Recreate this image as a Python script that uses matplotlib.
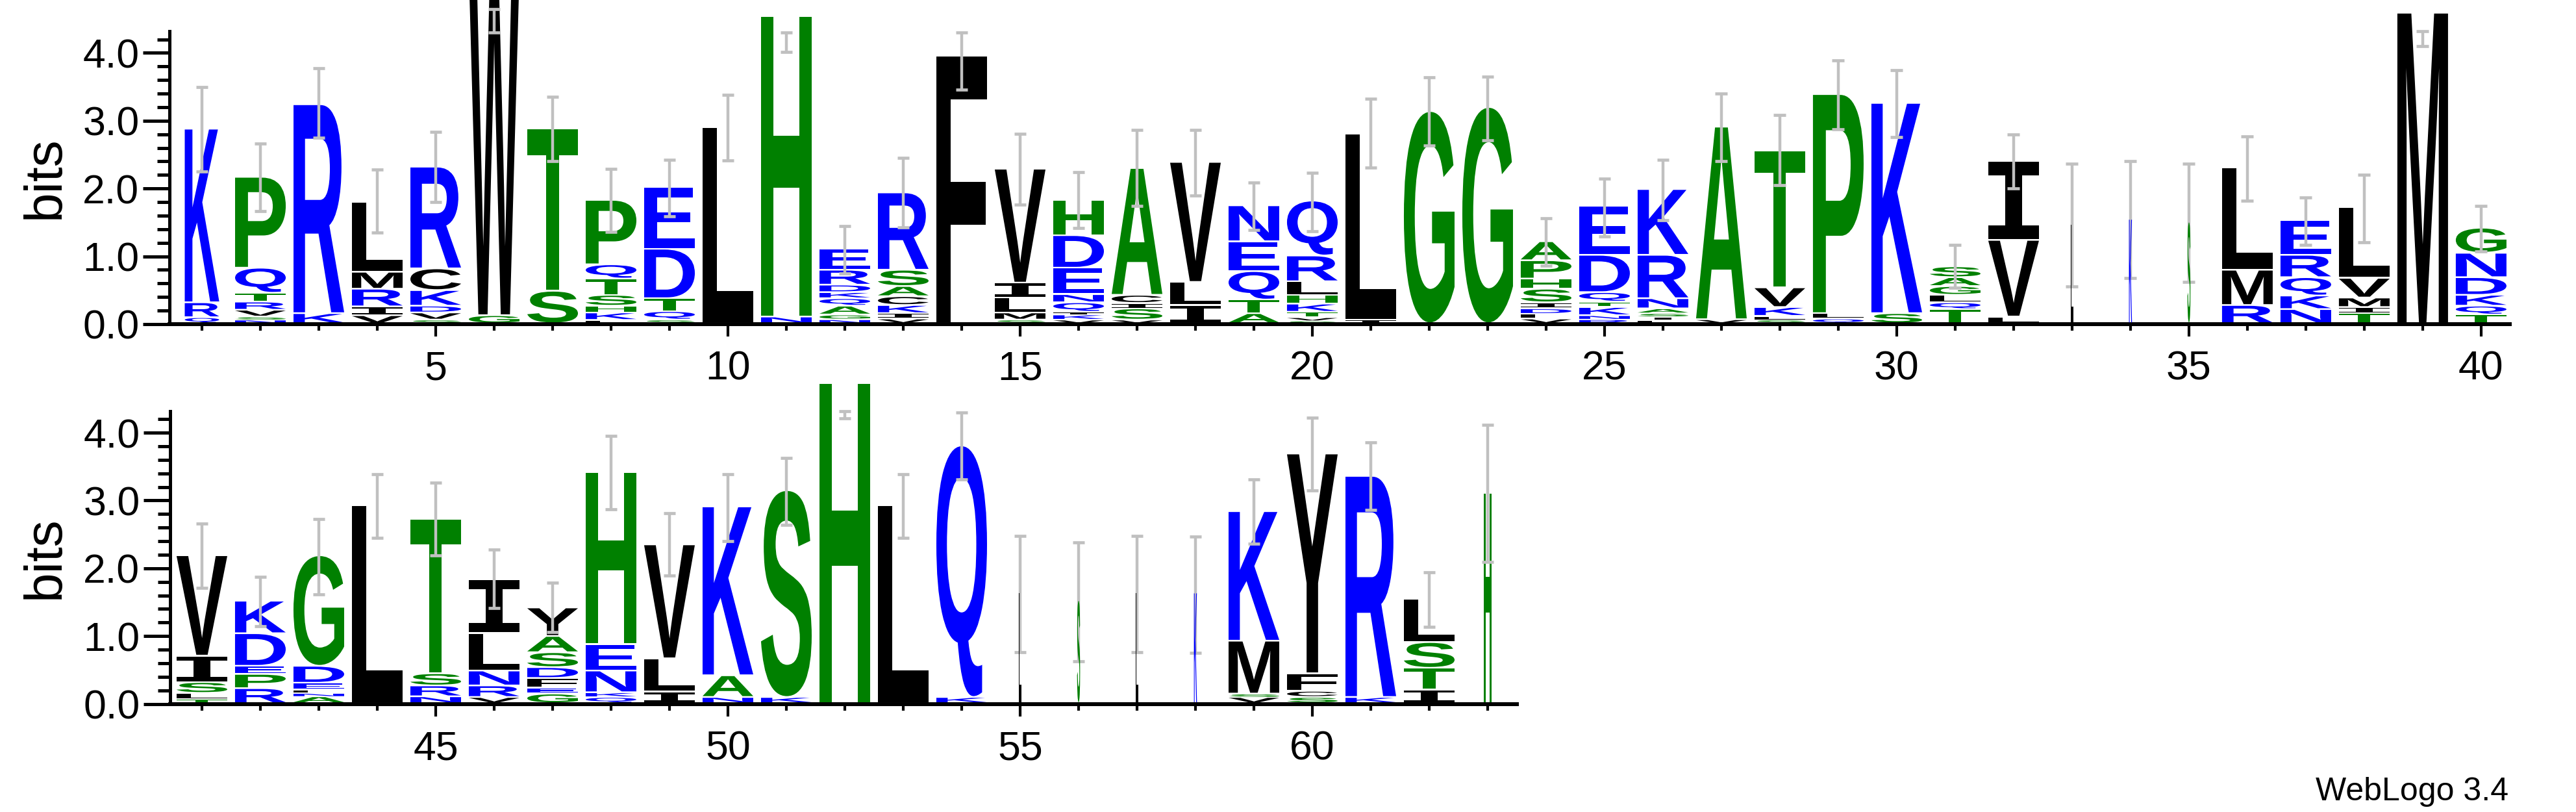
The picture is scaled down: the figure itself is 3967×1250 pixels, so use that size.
import numpy as np
import matplotlib
matplotlib.use("Agg")
import matplotlib.pyplot as plt
from matplotlib.textpath import TextPath
from matplotlib.patches import PathPatch
from matplotlib.font_manager import FontProperties
from matplotlib.transforms import Affine2D
from matplotlib.ticker import FixedLocator, FormatStrFormatter

# ---------------- data ----------------
top_positions = list(range(1, 41))
top_letters = ["QRK", "NSVRTQP", "KR", "VIRML", "SVDKCR", "GW", "ST", "LKHSTQP",
               "SQTDE", "L", "NH", "NGAQKDRE", "VIKCASR", "F", "SMLIV", "VKIQNEDH",
               "VSICA", "ILV", "ATQEN", "SVTKHLRQ", "IL", "G", "G", "VLDISHPA",
               "RNKTQDE", "LISANRK", "VA", "SLKVT", "QLP", "SK", "TQLGAS", "LVI",
               "L", "K", "S", "RML", "NKQRE", "TIMVL", "M", "TQKDNG"]
top_heights = [
    [0.09, 0.22, 2.56], [0.055, 0.045, 0.10, 0.12, 0.13, 0.37, 1.34], [0.15, 3.08],
    [0.12, 0.13, 0.26, 0.25, 1.03], [0.055, 0.105, 0.10, 0.23, 0.32, 1.50], [0.12, 5.08],
    [0.48, 2.39], [0.05, 0.11, 0.10, 0.16, 0.24, 0.21, 0.95], [0.055, 0.125, 0.19, 0.73, 0.91],
    [2.89], [0.10, 4.43], [0.06, 0.07, 0.13, 0.11, 0.09, 0.11, 0.22, 0.31],
    [0.07, 0.08, 0.12, 0.13, 0.15, 0.24, 1.14], [3.95], [0.055, 0.105, 0.22, 0.22, 1.68],
    [0.055, 0.075, 0.04, 0.14, 0.12, 0.39, 0.48, 0.52], [0.055, 0.165, 0.08, 0.12, 1.87],
    [0.27, 0.34, 1.77], [0.15, 0.20, 0.42, 0.44, 0.53],
    [0.04, 0.05, 0.08, 0.12, 0.13, 0.20, 0.38, 0.81], [0.055, 2.745], [3.13], [3.19],
    [0.07, 0.07, 0.08, 0.09, 0.20, 0.15, 0.27, 0.28], [0.06, 0.06, 0.12, 0.08, 0.14, 0.55, 0.72],
    [0.05, 0.05, 0.05, 0.07, 0.15, 0.64, 0.97], [0.06, 2.84], [0.055, 0.055, 0.13, 0.29, 2.02],
    [0.07, 0.08, 3.23], [0.15, 3.10], [0.21, 0.10, 0.11, 0.13, 0.13, 0.16], [0.10, 1.13, 1.16],
    [1.47], [1.54], [1.50], [0.27, 0.52, 1.51], [0.21, 0.20, 0.27, 0.33, 0.51],
    [0.15, 0.09, 0.14, 0.29, 1.04], [4.58], [0.13, 0.13, 0.16, 0.26, 0.36, 0.37]]
top_widths = [0.68] + [1.0] * 31 + [0.06, 0.06, 0.06] + [1.0] * 5
top_err_low = [2.25, 1.67, 2.75, 1.35, 1.80, 4.30, 2.40, 1.36, 1.59, 2.41,
               4.01, 0.75, 1.43, 3.46, 1.76, 1.42, 1.74, 1.90, 1.39, 1.37,
               2.31, 2.63, 2.71, 0.86, 1.29, 1.53, 2.40, 2.05, 2.87, 2.76,
               0.54, 2.00, 0.56, 0.68, 0.62, 1.82, 1.17, 1.21, 4.10, 1.07]
top_err_high = [3.50, 2.66, 3.77, 2.28, 2.84, 4.65, 3.35, 2.29, 2.42, 3.38,
                4.30, 1.45, 2.45, 4.30, 2.81, 2.24, 2.86, 2.86, 2.09, 2.23,
                3.32, 3.64, 3.65, 1.56, 2.15, 2.42, 3.40, 3.08, 3.89, 3.75,
                1.17, 2.80, 2.37, 2.40, 2.37, 2.77, 1.87, 2.20, 4.32, 1.74]

bottom_positions = list(range(41, 64))
bottom_letters = ["TLSIV", "RPEDK", "ANLEDG", "L", "NRST", "VRNLI", "GEFDSAY", "QKNEH",
                  "ILV", "NAK", "KS", "H", "L", "KQ", "L", "S", "L", "K", "VSMK",
                  "SCFY", "KR", "ITSL", "H"]
bottom_heights = [
    [0.06, 0.09, 0.16, 0.39, 1.48], [0.22, 0.21, 0.12, 0.48, 0.48],
    [0.10, 0.05, 0.05, 0.10, 0.25, 1.63], [2.92], [0.10, 0.16, 0.18, 2.28],
    [0.09, 0.17, 0.22, 0.55, 0.80], [0.14, 0.09, 0.14, 0.16, 0.22, 0.24, 0.42],
    [0.09, 0.07, 0.32, 0.39, 2.54], [0.17, 0.49, 1.68], [0.09, 0.32, 2.49], [0.09, 3.05],
    [4.72], [2.92], [0.09, 3.71], [1.63], [1.52], [1.63], [1.63], [0.09, 0.05, 0.78, 1.91],
    [0.09, 0.09, 0.26, 3.24], [0.09, 3.26], [0.20, 0.32, 0.38, 0.64], [3.10]]
bottom_widths = [1.0] * 14 + [0.06] * 4 + [1.0] * 4 + [0.15]
bottom_err_low = [1.71, 1.15, 1.62, 2.45, 2.19, 1.41, 1.06, 2.87, 1.89, 2.40, 2.64, 4.21,
                  2.45, 3.31, 0.76, 0.63, 0.76, 0.75, 2.36, 3.15, 2.86, 1.14, 2.09]
bottom_err_high = [2.66, 1.87, 2.73, 3.39, 3.26, 2.28, 1.79, 3.95, 2.81, 3.39, 3.63, 4.32,
                   3.39, 4.30, 2.48, 2.38, 2.48, 2.47, 3.31, 4.22, 3.86, 1.94, 4.12]

y_major = [0, 1, 2, 3, 4]
top_xlabels = [5, 10, 15, 20, 25, 30, 35, 40]
bottom_xlabels = [45, 50, 55, 60]

# ---------------- style ----------------
BLUE, GREEN, BLACK = "#0000ff", "#008000", "#000000"
COLORS = {}
for c in "RKDENQ":
    COLORS[c] = BLUE
for c in "SGHTAP":
    COLORS[c] = GREEN
for c in "YVMCLFIW":
    COLORS[c] = BLACK
EB_COLOR = "#c0c0c0"
STACK_W = 0.867
FP = FontProperties(family="Liberation Sans", weight="bold")
FP_I = FontProperties(family="DejaVu Sans Mono", weight="bold")
_cache = {}


def glyph_path(ch):
    if ch not in _cache:
        p = TextPath((0, 0), ch, size=100, prop=FP_I if ch == "I" else FP)
        _cache[ch] = (p, p.get_extents())
    return _cache[ch]


def draw_glyph(ax, ch, xc, w, y0, h, color, z):
    p, ext = glyph_path(ch)
    t = (Affine2D().translate(-ext.x0, -ext.y0)
         .scale(w / ext.width, h / ext.height)
         .translate(xc - w / 2, y0))
    patch = PathPatch(t.transform_path(p), facecolor=color, edgecolor="none",
                      transform=ax.transData, clip_on=False, zorder=z)
    ax.add_patch(patch)


def draw_row(ax, positions, letters, heights, widths, lo, hi):
    for pos, lets, hs, wf in zip(positions, letters, heights, widths):
        y = 0.0
        z = 6 if wf < 0.1 else 2
        for ch, h in zip(lets, hs):
            gap = min(0.025, 0.3 * h)
            draw_glyph(ax, ch, pos, STACK_W * wf, y + gap, h - gap, COLORS[ch], z)
            y += h
    for pos, l, u in zip(positions, lo, hi):
        ax.plot([pos, pos], [l, u], color=EB_COLOR, lw=3.2, solid_capstyle="butt",
                zorder=5, clip_on=False)
        for v in (l, u):
            ax.plot([pos - 0.105, pos + 0.105], [v, v], color=EB_COLOR, lw=3.4,
                    solid_capstyle="butt", zorder=5, clip_on=False)


def style_axis(ax, positions, xlabels):
    for s in ("top", "right"):
        ax.spines[s].set_visible(False)
    ax.spines["left"].set_linewidth(3.6)
    ax.spines["bottom"].set_linewidth(4.3)
    ax.set_ylim(0, 4.32)
    ax.yaxis.set_major_locator(FixedLocator(y_major))
    ax.yaxis.set_minor_locator(FixedLocator(np.arange(0, 4.33, 0.2)))
    ax.yaxis.set_major_formatter(FormatStrFormatter("%.1f"))
    ax.xaxis.set_major_locator(FixedLocator(xlabels))
    ax.xaxis.set_minor_locator(FixedLocator(positions))
    ax.tick_params(axis="y", which="major", length=29.5, width=3.6, labelsize=45, pad=4)
    ax.tick_params(axis="y", which="minor", length=13.7, width=3.6)
    ax.tick_params(axis="x", which="major", length=13.7, width=3.0, labelsize=45, pad=15)
    ax.tick_params(axis="x", which="minor", length=7.0, width=3.0)
    for lab in ax.get_xticklabels() + ax.get_yticklabels():
        lab.set_family("Liberation Sans")


fig = plt.figure(figsize=(39.67, 12.5), dpi=100)
ax1 = fig.add_axes([261 / 3967, 0.6008, 3604 / 3967, 0.3608])
ax1.set_xlim(0.444, 40.49)
style_axis(ax1, top_positions, top_xlabels)
draw_row(ax1, top_positions, top_letters, top_heights, top_widths, top_err_low, top_err_high)

ax2 = fig.add_axes([262 / 3967, 0.1331, 2074 / 3967, 0.3608])
ax2.set_xlim(40.456, 63.5)
style_axis(ax2, bottom_positions, bottom_xlabels)
draw_row(ax2, bottom_positions, bottom_letters, bottom_heights, bottom_widths,
         bottom_err_low, bottom_err_high)

fig.text(70 / 3967, 1 - 273 / 1250, "bits", rotation=90, ha="center", va="center",
         fontsize=59, family="Liberation Sans")
fig.text(70 / 3967, 1 - 858 / 1250, "bits", rotation=90, ha="center", va="center",
         fontsize=59, family="Liberation Sans")
fig.text(3863 / 3967, 18 / 1250, "WebLogo 3.4", ha="right", va="baseline",
         fontsize=36, family="Liberation Sans")

fig.savefig("out.png", dpi=100)
